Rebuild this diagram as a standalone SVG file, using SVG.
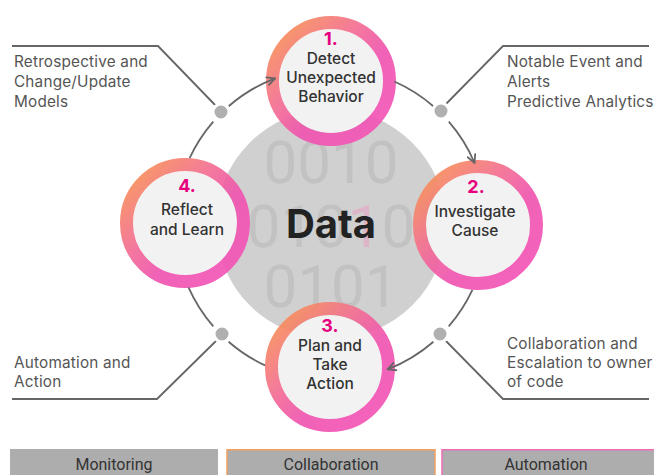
<svg xmlns="http://www.w3.org/2000/svg" width="654" height="475" viewBox="0 0 654 475">
<defs>
<linearGradient id="ring" x1="0" y1="0" x2="1" y2="1">
<stop offset="0" stop-color="#f8984a"/>
<stop offset="0.35" stop-color="#f3718f"/>
<stop offset="0.6" stop-color="#ef55b0"/>
<stop offset="1" stop-color="#f455b8"/>
</linearGradient>
<marker id="arr" viewBox="0 0 10 10" refX="9" refY="5" markerWidth="10" markerHeight="10" markerUnits="userSpaceOnUse" orient="auto">
<path d="M1,1 L9,5 L1,9" fill="none" stroke="#666" stroke-width="1.8" stroke-linecap="round" stroke-linejoin="round"/>
</marker>
<style>
.fill{fill:#f2f2f2}
.ring{fill:none;stroke:url(#ring);stroke-width:13;stroke-opacity:0.92}
.num{font-family:Inter,"Liberation Sans",sans-serif;font-weight:700;font-size:18px;fill:#e6007e;text-anchor:middle}
.lbl{font-family:Inter,"Liberation Sans",sans-serif;font-weight:500;font-size:15.5px;fill:#333;text-anchor:middle}
.note{font-family:Inter,"Liberation Sans",sans-serif;font-size:15.3px;letter-spacing:0.2px;fill:#555}
.bin{font-family:Roboto,"Liberation Sans",sans-serif;font-size:60px;fill:#c2c2c2;text-anchor:middle}
.leg{font-family:Roboto,"Liberation Sans",sans-serif;font-size:16px;fill:#333;text-anchor:middle}
.line{fill:none;stroke:#666;stroke-width:1.8}
.dot{fill:#b0b0b0;stroke:#fff;stroke-width:3}
</style>
</defs>
<rect width="654" height="475" fill="#fff"/>
<g id="data">
<circle cx="331" cy="224" r="115" fill="#d0d0d0"/>
<text class="bin" x="331" y="183">0010</text>
<text class="bin" x="331" y="247">010<tspan fill="#dcb6c8">1</tspan>0</text>
<text class="bin" x="331" y="307">0101</text>
<text x="331" y="238" font-family="Inter,'Liberation Sans',sans-serif" font-weight="700" font-size="40" fill="#222" text-anchor="middle">Data</text>
</g>
<g id="node1">
<circle class="fill" cx="331" cy="81" r="52"/>
<circle class="ring" cx="331" cy="81" r="58.5"/>
<text class="num" x="331" y="45">1.</text>
<text class="lbl" x="331" y="64">Detect</text>
<text class="lbl" x="331" y="83">Unexpected</text>
<text class="lbl" x="331" y="102">Behavior</text>
</g>
<g id="node2">
<circle class="fill" cx="478" cy="225" r="52"/>
<circle class="ring" cx="478" cy="225" r="58.5"/>
<text class="num" x="476" y="193">2.</text>
<text class="lbl" x="475" y="217">Investigate</text>
<text class="lbl" x="475" y="236">Cause</text>
</g>
<g id="node3">
<circle class="fill" cx="330" cy="367" r="52"/>
<circle class="ring" cx="330" cy="367" r="58.5"/>
<text class="num" x="330" y="332">3.</text>
<text class="lbl" x="330" y="351">Plan and</text>
<text class="lbl" x="330" y="370">Take</text>
<text class="lbl" x="330" y="389">Action</text>
</g>
<g id="node4">
<circle class="fill" cx="185" cy="223" r="52"/>
<circle class="ring" cx="185" cy="223" r="58.5"/>
<text class="num" x="187" y="192">4.</text>
<text class="lbl" x="187" y="215">Reflect</text>
<text class="lbl" x="187" y="235">and Learn</text>
</g>
<g id="connectors">
<path class="line" d="M228.7,106.2 A156,156 0 0 1 275.1,78.3" marker-end="url(#arr)"/>
<path class="line" d="M394.4,81.5 A156,156 0 0 1 433.3,106.2"/>
<path class="line" d="M448.8,121.7 A156,156 0 0 1 474.6,163" marker-end="url(#arr)"/>
<path class="line" d="M472.4,289.9 A156,156 0 0 1 448.7,326.4"/>
<path class="line" d="M433.4,341.7 A156,156 0 0 1 387.5,369.4" marker-end="url(#arr)"/>
<path class="line" d="M265.1,365.4 A156,156 0 0 1 228.6,341.7"/>
<path class="line" d="M213.3,326.4 A156,156 0 0 1 188.5,287.4"/>
<path class="line" d="M189.6,158.1 A156,156 0 0 1 213.3,121.6"/>
<polyline class="line" points="12,46 158,46 217,107"/>
<polyline class="line" points="649,46 503,46 445,105"/>
<polyline class="line" points="12,399 157,399 218,339"/>
<polyline class="line" points="649,399 503,399 444,339"/>
<circle class="dot" cx="221" cy="112" r="8"/>
<circle class="dot" cx="441" cy="111" r="8"/>
<circle class="dot" cx="440" cy="334" r="8"/>
<circle class="dot" cx="222" cy="334" r="8"/>
</g>
<g id="notes">
<text class="note" x="14" y="67">Retrospective and</text>
<text class="note" x="14" y="87">Change/Update</text>
<text class="note" x="14" y="107">Models</text>
<text class="note" x="507" y="67">Notable Event and</text>
<text class="note" x="507" y="87">Alerts</text>
<text class="note" x="507" y="107">Predictive Analytics</text>
<text class="note" x="14" y="368">Automation and</text>
<text class="note" x="14" y="387">Action</text>
<text class="note" x="507" y="349">Collaboration and</text>
<text class="note" x="507" y="368">Escalation to owner</text>
<text class="note" x="507" y="387">of code</text>
</g>
<g id="legend">
<rect x="10" y="449" width="208" height="30" fill="#adadad"/>
<rect x="227" y="449.75" width="208" height="30" fill="#adadad" stroke="#f4a060" stroke-width="1.5"/>
<rect x="442" y="449.75" width="214" height="30" fill="#adadad" stroke="#f06cb8" stroke-width="1.5"/>
<text class="leg" x="114" y="470">Monitoring</text>
<text class="leg" x="331" y="470">Collaboration</text>
<text class="leg" x="546" y="470">Automation</text>
</g>
</svg>
